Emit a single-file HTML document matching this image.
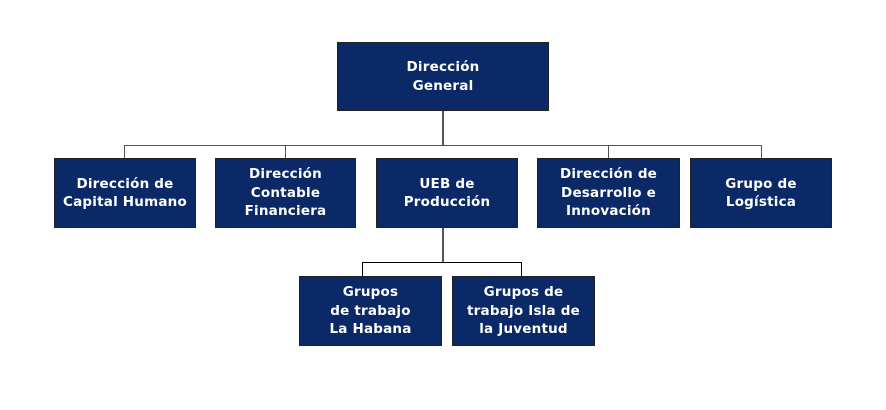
<!DOCTYPE html>
<html><head><meta charset="utf-8"><style>
body{margin:0;width:886px;height:410px;background:#fff;position:relative;overflow:hidden;font-family:"DejaVu Sans","Liberation Sans",sans-serif}
.b{position:absolute;background:#0a2966;border:1px solid #222;box-sizing:border-box;color:#fff;font-weight:bold;font-size:13.5px;line-height:18.5px;letter-spacing:0.2px;display:flex;align-items:center;justify-content:center;text-align:center;white-space:nowrap}
.l{position:absolute;background:#555}
</style></head><body>
<div class="l" style="left:442px;top:110px;width:2px;height:36px"></div>
<div class="l" style="left:124px;top:145px;width:638px;height:1px"></div>
<div class="l" style="left:124px;top:145px;width:1px;height:13px"></div>
<div class="l" style="left:285px;top:145px;width:1px;height:13px"></div>
<div class="l" style="left:608px;top:145px;width:1px;height:13px"></div>
<div class="l" style="left:761px;top:145px;width:1px;height:13px"></div>
<div class="l" style="left:442px;top:228px;width:2px;height:35px"></div>
<div class="l" style="left:362px;top:262px;width:160px;height:1px;background:#000"></div>
<div class="l" style="left:362px;top:262px;width:1px;height:14px;background:#000"></div>
<div class="l" style="left:521px;top:262px;width:1px;height:14px;background:#000"></div>
<div class="b" style="left:337px;top:42px;width:212px;height:69px">Dirección<br>General</div>
<div class="b" style="left:54px;top:158px;width:142px;height:70px">Dirección de<br>Capital Humano</div>
<div class="b" style="left:215px;top:158px;width:141px;height:70px">Dirección<br>Contable<br>Financiera</div>
<div class="b" style="left:376px;top:158px;width:142px;height:70px">UEB de<br>Producción</div>
<div class="b" style="left:537px;top:158px;width:143px;height:70px">Dirección de<br>Desarrollo e<br>Innovación</div>
<div class="b" style="left:690px;top:158px;width:142px;height:70px">Grupo de<br>Logística</div>
<div class="b" style="left:299px;top:276px;width:143px;height:70px">Grupos<br>de trabajo<br>La Habana</div>
<div class="b" style="left:452px;top:276px;width:143px;height:70px">Grupos de<br>trabajo Isla de<br>la Juventud</div>
</body></html>
